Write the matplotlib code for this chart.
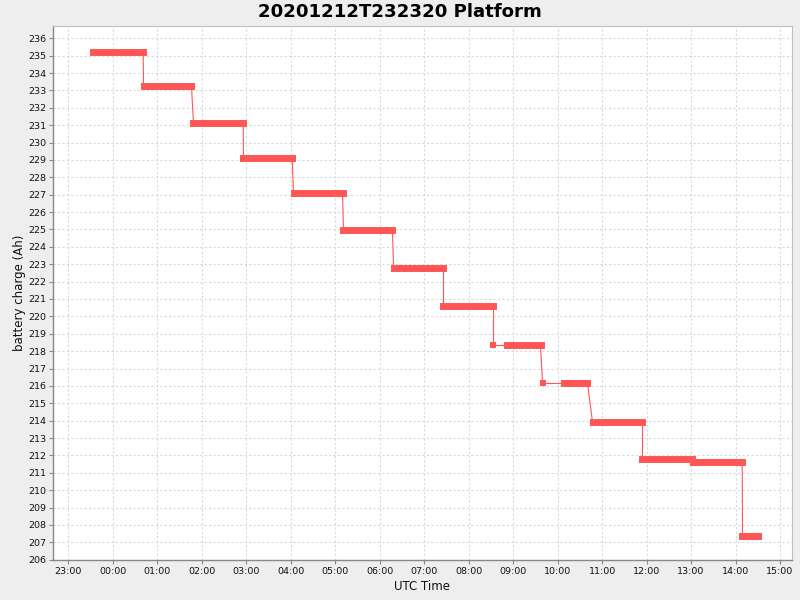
import matplotlib
matplotlib.use("Agg")
import matplotlib.pyplot as plt
import matplotlib.dates as mdates
import pandas as pd

# Data: charge intervals (start, end, value)
seg_start = ["2020-12-12 23:34:00", "2020-12-13 00:41:30", "2020-12-13 01:48:54",
             "2020-12-13 02:56:20", "2020-12-13 04:03:48", "2020-12-13 05:11:12",
             "2020-12-13 06:18:42", "2020-12-13 07:24:48", "2020-12-13 08:32:12",
             "2020-12-13 08:52:24", "2020-12-13 09:39:42", "2020-12-13 10:09:18",
             "2020-12-13 10:47:06", "2020-12-13 11:54:30", "2020-12-13 13:02:00",
             "2020-12-13 14:09:24"]
seg_end = ["2020-12-13 00:41:00", "2020-12-13 01:46:12", "2020-12-13 02:55:54",
           "2020-12-13 04:02:00", "2020-12-13 05:09:54", "2020-12-13 06:17:18",
           "2020-12-13 07:24:48", "2020-12-13 08:32:12", "2020-12-13 08:32:12",
           "2020-12-13 09:37:00", "2020-12-13 09:39:42", "2020-12-13 10:40:18",
           "2020-12-13 11:54:30", "2020-12-13 13:01:36", "2020-12-13 14:09:00",
           "2020-12-13 14:30:36"]
seg_value = [235.24, 233.23, 231.11, 229.10, 227.09, 224.96, 222.77, 220.59,
             218.35, 218.35, 216.16, 216.16, 213.92, 211.79, 211.62, 207.35]

title = "20201212T232320 Platform"
x_label = "UTC Time"
y_label = "battery charge (Ah)"

starts = pd.to_datetime(seg_start)
ends = pd.to_datetime(seg_end)

red = "#FF5555"
fig = plt.figure(figsize=(8, 6), dpi=100, facecolor="#EEEEEE")
ax = fig.add_axes([53/800, 40/600, 739/800, 534/600])
ax.set_facecolor("white")

# thin connectors
for i in range(1, len(seg_value)):
    ax.plot([ends[i-1], starts[i]], [seg_value[i-1], seg_value[i]],
            color=red, lw=0.8, solid_capstyle="butt", zorder=3)
# thick intervals
for s, e, v in zip(starts, ends, seg_value):
    if s == e:
        ax.plot([s], [v], marker="s", markersize=5.0, markeredgewidth=0,
                color=red, linestyle="none", zorder=4)
    else:
        ax.plot([s, e], [v, v], color=red, lw=5.0, solid_capstyle="projecting", zorder=4)

x0 = pd.Timestamp("2020-12-12 22:39:24")
x1 = pd.Timestamp("2020-12-13 15:16:10")
ax.set_xlim(x0, x1)
ax.set_ylim(205.98, 236.71)

ax.xaxis.set_major_locator(mdates.HourLocator(interval=1))
ax.xaxis.set_major_formatter(mdates.DateFormatter("%H:%M"))
ax.set_yticks(list(range(206, 237)))

ax.grid(True, color="#D8D8D8", linestyle=(0, (2, 2)), linewidth=0.8)
ax.set_axisbelow(True)

for side in ["top", "right"]:
    ax.spines[side].set_color("#C0C0C0")
    ax.spines[side].set_linewidth(0.8)
for side in ["left", "bottom"]:
    ax.spines[side].set_color("#888888")
    ax.spines[side].set_linewidth(1.0)

ax.tick_params(axis="both", direction="out", length=3, width=0.8, color="#888888",
               labelsize=6.8, labelcolor="#111111", pad=2)

ax.set_xlabel(x_label, fontsize=8.5, color="#111111", labelpad=3)
ax.set_ylabel(y_label, fontsize=8.5, color="#111111", labelpad=1.5)
fig.suptitle(title, fontsize=13.1, fontweight="bold", y=0.995, va="top")

fig.savefig("out.png", dpi=100, facecolor=fig.get_facecolor())
